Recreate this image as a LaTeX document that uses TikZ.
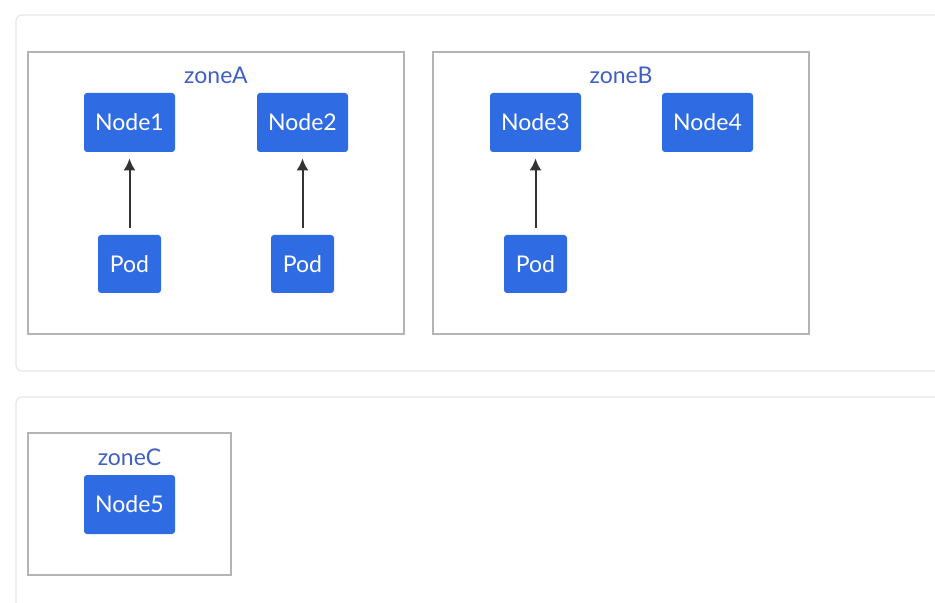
\documentclass[tikz,border=0pt]{standalone}
\usepackage{fontspec}
\setmainfont{Lato}
\usepackage{tikz}
\definecolor{nodeblue}{HTML}{2F6BE3}
\definecolor{zonetext}{HTML}{3F5FC4}
\definecolor{zoneline}{HTML}{B4B4B4}
\definecolor{panelline}{HTML}{E6E6E6}
\definecolor{arrowgrey}{HTML}{333333}
\tikzset{node distance=70.75pt, auto,
  k8snode/.style={fill=nodeblue, text=white, rounded corners=1.5pt,
    minimum width=45.5pt, minimum height=29.5pt, inner sep=0pt, font=\fontsize{11.5}{13}\selectfont},
  podbox/.style={k8snode, minimum width=31.5pt, minimum height=29pt},
  zonelabel/.style={text=zonetext, font=\fontsize{11.5}{13}\selectfont, inner sep=0pt},
  zonebox/.style={draw=zoneline, line width=1pt},
  panel/.style={draw=panelline, line width=0.6pt, rounded corners=3pt},
  podlink/.style={draw=arrowgrey, line width=1pt, -{Latex[length=6pt,width=6pt]},
    shorten <=3.5pt, shorten >=3pt}}
\usetikzlibrary{arrows.meta}

\begin{document}
\begin{tikzpicture}[x=0.5pt, y=-0.5pt]
        \useasboundingbox (0,0) rectangle (935,603);
        % panels
        \draw[panel] (16,15) rectangle (950,371);
        \draw[panel] (16,397) rectangle (950,620);

        % zones
        \draw[zonebox] (28,52) rectangle (404,334);
        \draw[zonebox] (433,52) rectangle (809,334);
        \draw[zonebox] (28,433) rectangle (231,575);
        \node[zonelabel] (zA) at (216,75) {zoneA};
        \node[zonelabel] (zB) at (621,75) {zoneB};
        \node[zonelabel] (zC) at (129.5,457) {zoneC};

        \node[k8snode] (N1) at (129.5,122.5) {Node1};
        \node[k8snode] (N2) [right of=N1, node distance=86.5pt] {Node2};
        \node[k8snode] (N3) [right of=N2, node distance=116.5pt] {Node3};
        \node[k8snode] (N4) [right of=N3, node distance=86pt] {Node4};
        \node[k8snode] (N5) at (129.5,504.5) {Node5};

        \node[podbox] (P1) [below of=N1] {Pod};
        \node[podbox] (P2) [below of=N2] {Pod};
        \node[podbox] (P3) [below of=N3] {Pod};

        \draw[podlink] (P1) to (N1);
        \draw[podlink] (P2) to (N2);
        \draw[podlink] (P3) to (N3);
      \end{tikzpicture}
\end{document}
